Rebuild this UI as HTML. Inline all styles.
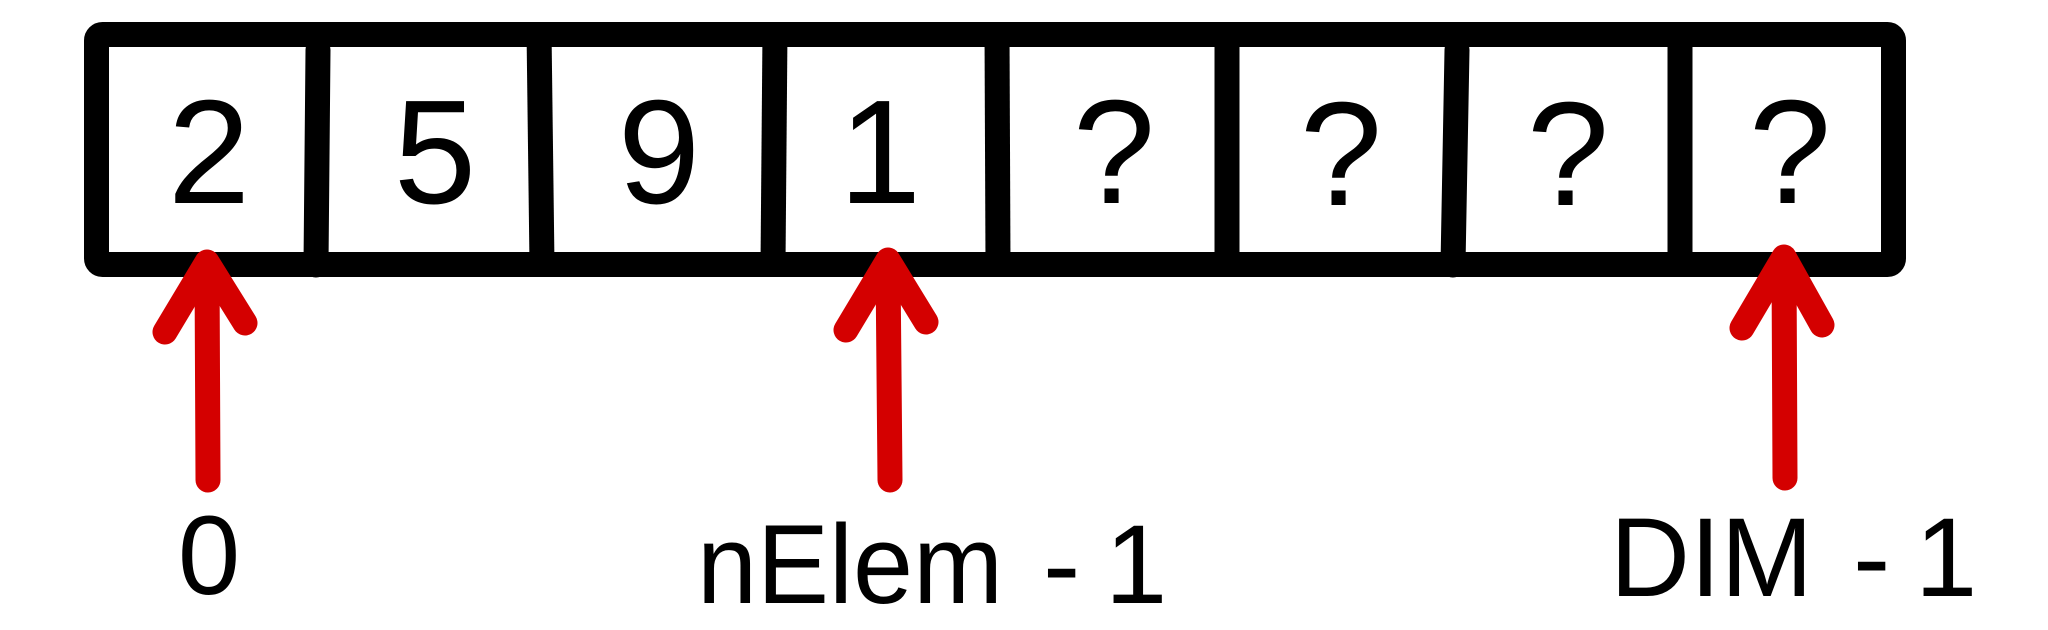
<!DOCTYPE html>
<html>
<head>
<meta charset="utf-8">
<style>
html,body{margin:0;padding:0;background:#fff;}
svg{display:block;}
text{font-family:"Liberation Sans",Arial,sans-serif;fill:#000;}
</style>
</head>
<body>
<svg width="2048" height="630" viewBox="0 0 2048 630">
  <rect x="96.5" y="34.5" width="1797" height="230" rx="6" fill="none" stroke="#000" stroke-width="25" stroke-linejoin="round"/>
  <g stroke="#000" stroke-width="25">
    <line x1="318" y1="50" x2="316" y2="265" stroke-linecap="round"/>
    <line x1="539" y1="30" x2="542" y2="265"/>
    <line x1="775" y1="30" x2="773" y2="265"/>
    <line x1="997" y1="30" x2="998" y2="265"/>
    <line x1="1227" y1="30" x2="1227" y2="265"/>
    <line x1="1457" y1="50" x2="1453" y2="265" stroke-linecap="round"/>
    <line x1="1680" y1="30" x2="1680" y2="265"/>
  </g>
  <g font-size="148" text-anchor="middle">
    <text x="209" y="203">2</text>
    <text x="435" y="203">5</text>
    <text x="659" y="203">9</text>
    <text x="880" y="203">1</text>
    <text x="1114" y="203">?</text>
    <text x="1341" y="205">?</text>
    <text x="1568" y="205">?</text>
    <text x="1790" y="203">?</text>
  </g>
  <g stroke="#d40000" stroke-width="25" stroke-linecap="round" stroke-linejoin="round" fill="none">
    <g>
      <line x1="207" y1="265" x2="208" y2="480"/>
      <polyline points="165,332 207,262 245,323"/>
    </g>
    <g>
      <line x1="888" y1="265" x2="890" y2="480"/>
      <polyline points="846,330 888,260 926,322"/>
    </g>
    <g>
      <line x1="1784" y1="262" x2="1785" y2="478"/>
      <polyline points="1742,328 1784,257 1822,325"/>
    </g>
  </g>
  <g font-size="112">
    <text x="209" y="594" text-anchor="middle">0</text>
    <g>
      <text x="697" y="603" textLength="306" lengthAdjust="spacingAndGlyphs">nElem</text>
      <text x="1043" y="603">-</text>
      <text x="1105" y="603">1</text>
    </g>
    <g>
      <text x="1610" y="596" textLength="203" lengthAdjust="spacingAndGlyphs">DIM</text>
      <text x="1853" y="596">-</text>
      <text x="1915" y="596">1</text>
    </g>
  </g>
</svg>
</body>
</html>
